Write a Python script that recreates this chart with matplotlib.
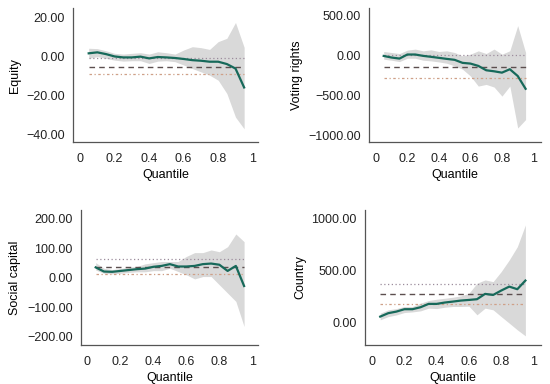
import numpy as np
import matplotlib
matplotlib.use('Agg')
import matplotlib.pyplot as plt

plt.rcParams['font.family'] = ['Liberation Sans', 'DejaVu Sans']
plt.rcParams['font.size'] = 9

# quantiles 0.05 .. 0.95
quantiles = [0.05, 0.10, 0.15, 0.20, 0.25, 0.30, 0.35, 0.40, 0.45, 0.50,
             0.55, 0.60, 0.65, 0.70, 0.75, 0.80, 0.85, 0.90, 0.95]
x_ticks = [0, 0.2, 0.4, 0.6, 0.8, 1]
x_ticklabels = ['0', '0.2', '0.4', '0.6', '0.8', '1']

# Equity
equity_coef = [1.4, 1.9, 1.0, -0.2, -0.7, -0.7, -0.3, -1.2, -0.5, -0.7,
               -1.0, -1.5, -2.1, -2.4, -2.9, -2.9, -4.1, -6.4, -16.1]
equity_hi = [4.0, 3.8, 2.7, 1.4, 1.0, 1.4, 1.7, 1.0, 2.2, 1.7,
             1.0, 3.1, 4.8, 4.3, 3.4, 7.4, 9.1, 17.2, 4.5]
equity_lo = [-1.2, -0.3, -1.2, -2.1, -2.6, -2.4, -2.4, -3.8, -2.6, -2.4,
             -2.9, -4.6, -6.4, -8.1, -9.8, -12.4, -19.2, -31.3, -37.3]
equity_ols = [-1.2, -5.5, -9.4]  # upper, estimate, lower
equity_yticks = [20, 0, -20, -40]

# Voting rights
voting_coef = [-5, -25, -38, 13, 13, -4, -16, -29, -42, -54,
               -92, -101, -130, -185, -198, -215, -172, -257, -418]
voting_hi = [51, 38, 25, 68, 81, 59, 72, 51, 59, 38,
             -4, 17, 59, 25, 81, 17, 60, 376, 38]
voting_lo = [-46, -59, -76, -34, -34, -59, -67, -80, -97, -130,
             -172, -257, -384, -363, -396, -510, -384, -911, -805]
voting_ols = [5, -139, -278]
voting_yticks = [500, 0, -500, -1000]

# Social capital
social_coef = [35, 21, 20, 23, 26, 29, 31, 37, 40, 46,
               38, 38, 40, 46, 48, 44, 23, 40, -28]
social_hi = [51, 32, 28, 31, 36, 38, 47, 51, 55, 55,
             55, 72, 85, 85, 94, 88, 105, 148, 122]
social_lo = [26, 15, 13, 15, 18, 20, 20, 24, 24, 32,
             21, 10, -4, 4, 4, -24, -52, -80, -165]
social_ols = [63, 38, 13]
social_yticks = [200, 100, 0, -100, -200]

# Country
country_coef = [60, 93, 108, 131, 131, 150, 182, 182, 195, 204,
                214, 220, 227, 278, 268, 310, 348, 323, 406]
country_hi = [93, 125, 137, 157, 157, 189, 214, 227, 236, 246,
              259, 284, 380, 412, 396, 492, 604, 731, 940]
country_lo = [29, 60, 76, 99, 105, 115, 141, 137, 150, 157,
              157, 160, 77, 141, 125, 60, -3, -67, -125]
country_ols = [374, 278, 182]
country_yticks = [1000, 500, 0]

panels = [
    ('Equity', equity_coef, equity_hi, equity_lo, equity_ols, equity_yticks,
     [0.133, 0.630, 0.336, 0.349], (-44.1, 24.6), (-0.04, 1.03)),
    ('Voting rights', voting_coef, voting_hi, voting_lo, voting_ols, voting_yticks,
     [0.671, 0.630, 0.313, 0.349], (-1088, 597), (-0.043, 1.049)),
    ('Social capital', social_coef, social_hi, social_lo, social_ols, social_yticks,
     [0.147, 0.102, 0.322, 0.351], (-227, 229), (-0.04, 1.034)),
    ('Country', country_coef, country_hi, country_lo, country_ols, country_yticks,
     [0.664, 0.102, 0.320, 0.351], (-211, 1083), (-0.043, 1.048)),
]

line_col = '#17695a'
band_col = '#d9d9d9'
spine_col = '#555555'

fig = plt.figure(figsize=(5.5, 3.84), dpi=100)

for name, coef, hi, lo, ols, yticks, rect, ylim, xlim in panels:
    ax = fig.add_axes(rect)
    ax.fill_between(quantiles, lo, hi, color=band_col, lw=0)
    q0, q1 = quantiles[0], quantiles[-1]
    ax.plot([q0, q1], [ols[0], ols[0]], color='#9c8c9c', lw=0.9, ls=(0, (1, 2)))
    ax.plot([q0, q1], [ols[1], ols[1]], color='#5c4f4f', lw=1.0, ls=(0, (4, 3)))
    ax.plot([q0, q1], [ols[2], ols[2]], color='#cfa088', lw=0.9, ls=(0, (2, 2, 1, 2)))
    ax.plot(quantiles, coef, color=line_col, lw=1.6)

    ax.set_xlim(*xlim)
    ax.set_ylim(*ylim)
    ax.set_xticks(x_ticks)
    ax.set_xticklabels(x_ticklabels)
    ax.set_yticks(yticks)
    ax.set_yticklabels(['%.2f' % v if v >= 0 else '\u2212%.2f' % -v for v in yticks])
    ax.tick_params(length=0, colors='#222222')
    ax.tick_params(axis='x', pad=8)
    ax.tick_params(axis='y', pad=6)
    ax.set_xlabel('Quantile', labelpad=3)
    ax.set_ylabel(name, labelpad=4)
    for s in ['top', 'right']:
        ax.spines[s].set_visible(False)
    for s in ['left', 'bottom']:
        ax.spines[s].set_color(spine_col)
        ax.spines[s].set_linewidth(0.9)

fig.savefig('out.png', dpi=100)
